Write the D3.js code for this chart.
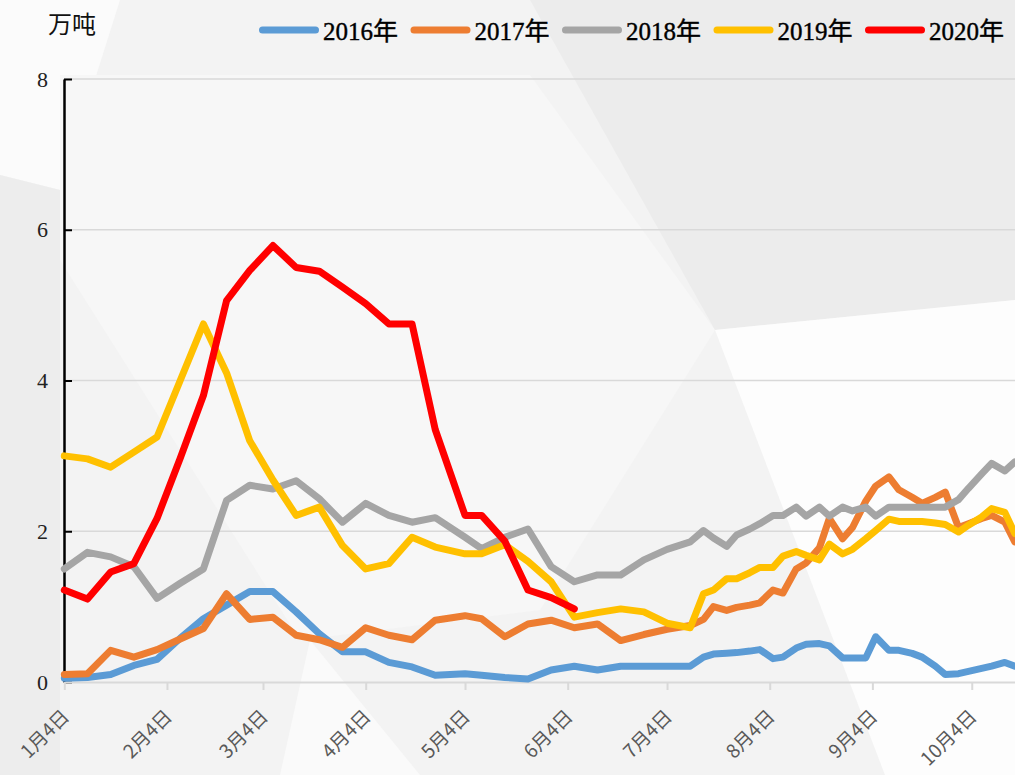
<!DOCTYPE html>
<html>
<head>
<meta charset="utf-8">
<script src="https://cdn.jsdelivr.net/npm/d3@7"></script>
<style>
  body { margin: 0; background: #f3f3f3; }
  svg { display: block; }
</style>
</head>
<body>
<svg id="drawing_region"></svg>
<script>
// shared dates (2020 calendar), weekly first, then twice a week from mid July
const dates = ["1/4","1/11","1/18","1/25","2/1","2/8","2/15","2/22","2/29","3/7","3/14","3/21","3/28",
  "4/4","4/11","4/18","4/25","5/4","5/9","5/16","5/23","5/30","6/6","6/13","6/20","6/27","7/4","7/11",
  "7/15","7/18","7/22","7/25","7/29","8/1","8/5","8/8","8/12","8/15","8/19","8/22","8/26","8/29",
  "9/2","9/5","9/9","9/12","9/16","9/19","9/23","9/26","9/30","10/3","10/7","10/10","10/14","10/17"];

const years = ["2016年","2017年","2018年","2019年","2020年"];

const v2016 = [0.05,0.06,0.10,0.22,0.30,0.58,0.84,1.02,1.20,1.20,0.93,0.64,0.40,0.40,0.26,0.20,0.09,0.11,0.09,0.06,
  0.04,0.16,0.21,0.16,0.21,0.21,0.21,0.21,
  0.33,0.37,0.38,0.39,0.41,0.43,0.31,0.33,0.45,0.50,0.51,0.48,0.32,0.32,0.32,0.60,0.42,0.42,0.38,0.33,0.21,0.10,
  0.11,0.14,0.18,0.21,0.26,0.21];
const v2017 = [0.10,0.11,0.42,0.33,0.43,0.57,0.71,1.17,0.83,0.86,0.62,0.56,0.46,0.72,0.62,0.56,0.82,0.88,0.84,0.60,
  0.77,0.82,0.72,0.77,0.55,0.63,0.70,0.75,
  0.83,1.00,0.95,0.99,1.02,1.05,1.22,1.18,1.50,1.58,1.78,2.17,1.90,2.05,2.40,2.60,2.72,2.55,2.45,2.37,2.45,2.52,
  2.05,2.10,2.17,2.21,2.12,1.86];
const v2018 = [1.50,1.72,1.66,1.53,1.11,1.31,1.50,2.41,2.61,2.56,2.67,2.43,2.12,2.37,2.21,2.12,2.18,1.92,1.77,1.92,
  2.03,1.53,1.33,1.42,1.42,1.62,1.76,1.86,
  2.01,1.91,1.80,1.95,2.03,2.10,2.21,2.21,2.32,2.20,2.32,2.20,2.32,2.27,2.32,2.20,2.32,2.32,2.32,2.32,2.32,2.32,
  2.42,2.57,2.76,2.90,2.80,2.92];
const v2019 = [3.00,2.96,2.85,3.05,3.25,4.00,4.75,4.10,3.20,2.68,2.21,2.32,1.81,1.50,1.57,1.92,1.79,1.70,1.70,1.82,
  1.60,1.33,0.86,0.92,0.97,0.93,0.78,0.72,
  1.17,1.22,1.37,1.37,1.45,1.52,1.52,1.67,1.73,1.68,1.62,1.83,1.70,1.76,1.90,2.01,2.16,2.13,2.13,2.13,2.11,2.09,
  1.99,2.08,2.19,2.30,2.25,1.97];
const v2020 = [1.22,1.10,1.46,1.57,2.17,2.97,3.80,5.06,5.46,5.79,5.50,5.45,5.24,5.02,4.75,4.75,3.35,2.21,2.21,1.87,
  1.22,1.12,0.97];

const colors = ["#5b9bd5","#ed7d31","#a5a5a5","#ffc000","#ff0000"];
const yTicks = [0,2,4,6,8];
const xTicks = ["1/4","2/4","3/4","4/4","5/4","6/4","7/4","8/4","9/4","10/4"];
const unitLabel = "万吨";

const parseDate = s => d3.timeParse("%Y/%m/%d")("2020/" + s);

class LineChart {
    constructor( config, data ){
        this.config = {
            parent: config.parent,
            width: config.width || 1015,
            height: config.height || 775,
            margin: config.margin || {top:79, right:0, bottom:93, left:64}
        };
        this.data = data;
        this.init();
    }

    init(){
        let self = this;

        self.svg = d3.select( self.config.parent )
                     .attr('width', self.config.width)
                     .attr('height', self.config.height);

        self.xscale = d3.scaleTime()
                        .domain([parseDate("1/4"), parseDate("10/17")])
                        .range([64.3, 1014.8]);

        self.yscale = d3.scaleLinear()
                        .domain([0, 8])
                        .range([682, 79]);

        self.line = d3.line()
                      .defined( d => d.value != null )
                      .x( d => self.xscale(d.date) )
                      .y( d => self.yscale(d.value) );
    }

    render(){
        let self = this;
        const W = self.config.width, H = self.config.height;

        // faint geometric background
        const bg = self.svg.append('g');
        bg.append('rect').attr('width', W).attr('height', H).attr('fill', '#f3f3f3');
        const shapes = [
            {p: [[0,0],[120,0],[60,190],[0,175]], f: '#fbfbfb'},
            {p: [[60,75],[530,75],[715,330],[540,610],[300,640],[60,260]], f: '#f7f7f7'},
            {p: [[530,0],[1015,0],[1015,300],[715,330]], f: '#ececec'},
            {p: [[715,330],[1015,300],[1015,775],[885,775]], f: '#fdfdfd'},
            {p: [[0,175],[60,190],[60,775],[0,775]], f: '#ededed'},
            {p: [[280,775],[310,640],[420,775]], f: '#fafafa'}
        ];
        bg.selectAll('polygon')
          .data(shapes)
          .enter()
          .append('polygon')
          .attr('points', d => d.p.map(q => q.join(',')).join(' '))
          .attr('fill', d => d.f);

        // grid lines
        self.svg.append('g')
                .selectAll('line')
                .data(yTicks.filter(d => d > 0))
                .enter()
                .append('line')
                .attr('x1', 64).attr('x2', W)
                .attr('y1', d => self.yscale(d)).attr('y2', d => self.yscale(d))
                .attr('stroke', '#d9d9d9')
                .attr('stroke-width', 1.5);

        // y axis
        const yAxis = self.svg.append('g')
                .attr('transform', 'translate(64,0)')
                .call(d3.axisLeft(self.yscale).tickValues(yTicks).tickSizeInner(-8).tickSizeOuter(0).tickPadding(16));
        yAxis.select('.domain').attr('stroke', '#000').attr('stroke-width', 2.5);
        yAxis.selectAll('.tick line').attr('stroke', '#000').attr('stroke-width', 2);
        yAxis.selectAll('.tick text')
             .attr('fill', '#222')
             .style('font-family', '"Liberation Serif", "DejaVu Serif", serif')
             .style('font-size', '22px');

        // x axis
        const xAxis = self.svg.append('g')
                .attr('transform', 'translate(0,682)')
                .call(d3.axisBottom(self.xscale)
                        .tickValues(xTicks.map(parseDate))
                        .tickSizeInner(8).tickSizeOuter(0)
                        .tickFormat(d3.timeFormat('%-m月%-d日')));
        xAxis.select('.domain').attr('stroke', '#d9d9d9').attr('stroke-width', 2);
        xAxis.selectAll('.tick line').attr('stroke', '#d9d9d9').attr('stroke-width', 2);
        xAxis.selectAll('.tick text')
             .attr('x', 0).attr('y', 0).attr('dy', '0.35em')
             .attr('transform', 'translate(1,31) rotate(-45)')
             .attr('text-anchor', 'end')
             .attr('fill', '#595959')
             .style('font-family', '"Noto Sans CJK SC", sans-serif')
             .style('font-size', '19px');

        // series
        self.svg.append('g')
                .selectAll('path')
                .data(self.data)
                .enter()
                .append('path')
                .attr('d', d => self.line(d.points))
                .attr('fill', 'none')
                .attr('stroke', (d, i) => colors[i])
                .attr('stroke-width', 7)
                .attr('stroke-linejoin', 'round')
                .attr('stroke-linecap', 'round');

        // unit
        self.svg.append('text')
                .attr('x', 48).attr('y', 33)
                .text(unitLabel)
                .style('font-family', '"Noto Sans CJK SC", sans-serif')
                .style('font-size', '24px')
                .attr('fill', '#111');

        // legend
        const legend = self.svg.append('g')
                .selectAll('g')
                .data(self.data)
                .enter()
                .append('g')
                .attr('transform', (d, i) => `translate(${259 + i * 151.5},30)`);
        legend.append('line')
              .attr('x1', 3.5).attr('x2', 56.5)
              .attr('y1', 0).attr('y2', 0)
              .attr('stroke', (d, i) => colors[i])
              .attr('stroke-width', 7)
              .attr('stroke-linecap', 'round');
        legend.append('text')
              .attr('x', 64).attr('y', 10)
              .text(d => d.name)
              .attr('fill', '#000')
              .attr('stroke', '#000')
              .attr('stroke-width', 0.4)
              .style('font-family', '"Liberation Serif", "Noto Sans CJK SC", serif')
              .style('font-size', '25px');
    }
}

const series = [v2016, v2017, v2018, v2019, v2020].map((vals, i) => ({
    name: years[i],
    points: vals.map((v, j) => ({ date: parseDate(dates[j]), value: v }))
}));

const chart = new LineChart({ parent: '#drawing_region', width: 1015, height: 775 }, series);
chart.render();
</script>
</body>
</html>
